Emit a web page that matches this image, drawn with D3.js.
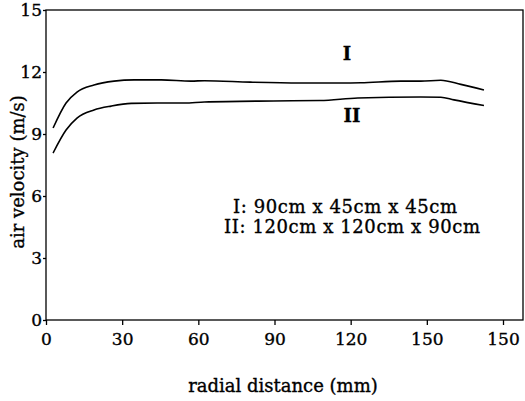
<!DOCTYPE html>
<html>
<head>
<meta charset="utf-8">
<script src="https://cdn.jsdelivr.net/npm/d3@7"></script>
<style>
  body { margin: 0; background: #fff; }
  text { font-family: "DejaVu Serif", serif; fill: #000; stroke: #000; stroke-width: 0.35px; }
</style>
</head>
<body>
<div id="chart"></div>
<script>
// radial distance (mm) and air velocity (m/s)
const radialI = [2.8, 7.9, 12.2, 18.9, 26.8, 34.7, 45.4, 57.2, 62.4, 80.5, 100, 116, 124, 139.7, 147.6, 155.5, 163.4, 172.5];
const velocityI = [9.29, 10.5, 11.03, 11.37, 11.56, 11.62, 11.62, 11.56, 11.58, 11.51, 11.47, 11.47, 11.48, 11.56, 11.56, 11.6, 11.4, 11.13];

const radialII = [2.8, 7.9, 12.2, 18.9, 25.7, 33.6, 43.8, 54.5, 62.4, 89.6, 108, 122.8, 147.6, 155.5, 160.7, 172.5];
const velocityII = [8.08, 9.19, 9.77, 10.16, 10.35, 10.48, 10.5, 10.5, 10.55, 10.6, 10.62, 10.74, 10.79, 10.78, 10.65, 10.38];

const xTicks = [0, 30, 60, 90, 120, 150, 180];
const xTickLabels = ["0", "30", "60", "90", "120", "150", "150"];
const yTicks = [0, 3, 6, 9, 12, 15];

const legendLines = ["I: 90cm x 45cm x 45cm", "II: 120cm x 120cm x 90cm"];

const width = 525;
const height = 401;
const margin = { top: 10, left: 46 };
const plotW = 477;
const plotH = 310;

const svg = d3.select("#chart")
    .append("svg")
    .attr("width", width)
    .attr("height", height);

const g = svg.append("g")
    .attr("transform", `translate(${margin.left}, ${margin.top})`);

const x = d3.scaleLinear().domain([0, 180]).range([0, 457]);
const y = d3.scaleLinear().domain([0, 15]).range([plotH, 0]);

// frame
g.append("rect")
    .attr("width", plotW)
    .attr("height", plotH)
    .attr("fill", "none")
    .attr("stroke", "#000")
    .attr("stroke-width", 1.3);

// x axis
const xAxis = g.append("g")
    .attr("transform", `translate(0, ${plotH})`)
    .call(d3.axisBottom(x).tickValues(xTicks).tickSize(5).tickPadding(8)
        .tickFormat((d, i) => xTickLabels[i]));
xAxis.select(".domain").remove();
xAxis.selectAll("line").attr("stroke-width", 1.3);
xAxis.selectAll("text").style("font-family", "DejaVu Serif").style("font-size", "17px");

// y axis
const yAxis = g.append("g")
    .call(d3.axisLeft(y).tickValues(yTicks).tickSize(3).tickPadding(1).tickFormat(d3.format("d")));
yAxis.select(".domain").remove();
yAxis.selectAll("line").attr("stroke-width", 1.3);
yAxis.selectAll("text").style("font-family", "DejaVu Serif").style("font-size", "17px");

// curves
const line = d3.line()
    .x(d => x(d[0]))
    .y(d => y(d[1]))
    .curve(d3.curveMonotoneX);

g.append("path")
    .datum(d3.zip(radialI, velocityI))
    .attr("d", line)
    .attr("fill", "none")
    .attr("stroke", "#000")
    .attr("stroke-width", 1.6);

g.append("path")
    .datum(d3.zip(radialII, velocityII))
    .attr("d", line)
    .attr("fill", "none")
    .attr("stroke", "#000")
    .attr("stroke-width", 1.6);

// curve labels
g.append("text")
    .attr("x", x(118.5))
    .attr("y", y(12.6))
    .attr("text-anchor", "middle")
    .style("font-size", "18px")
    .style("font-weight", "bold")
    .text("I");

g.append("text")
    .attr("x", x(120.5))
    .attr("y", y(9.6))
    .attr("text-anchor", "middle")
    .style("font-size", "18px")
    .style("font-weight", "bold")
    .text("II");

// legend text
g.selectAll(".legend")
    .data(legendLines)
    .enter()
    .append("text")
    .attr("class", "legend")
    .attr("x", (d, i) => i === 0 ? 187 : 178)
    .attr("y", (d, i) => 203 + i * 20)
    .style("font-size", "18px")
    .attr("textLength", (d, i) => i === 0 ? 224 : 256)
    .text(d => d);

// axis titles
svg.append("text")
    .attr("x", 283)
    .attr("y", 392)
    .attr("text-anchor", "middle")
    .style("font-size", "18px")
    .text("radial distance (mm)");

svg.append("text")
    .attr("transform", "translate(24, 172) rotate(-90)")
    .attr("text-anchor", "middle")
    .style("font-size", "18px")
    .text("air velocity (m/s)");
</script>
</body>
</html>
